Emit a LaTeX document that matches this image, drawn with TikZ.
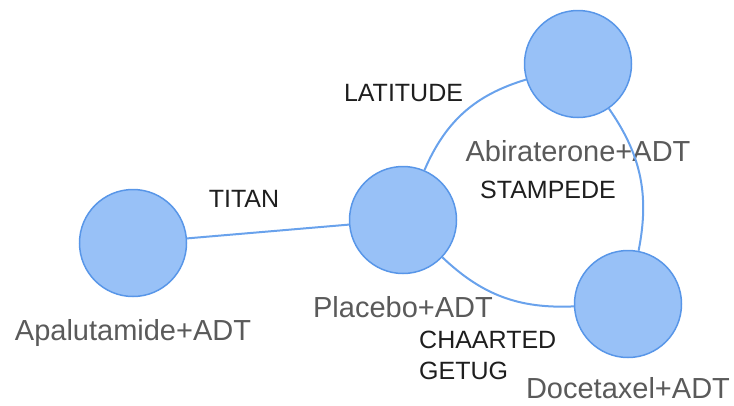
\documentclass[tikz,border=0pt]{standalone}
\usepackage{fontspec}
\setmainfont{Liberation Sans}
\usepackage{tikz}
\usetikzlibrary{shapes.geometric, arrows}
\definecolor{armfill}{RGB}{152,193,247}
\definecolor{armdraw}{RGB}{88,150,232}
\definecolor{linkcol}{RGB}{105,162,236}
\definecolor{armtext}{RGB}{90,90,90}
\definecolor{trialtext}{RGB}{30,30,30}
\tikzstyle{arm} = [circle, minimum size=107pt, inner sep=0pt, draw=armdraw, line width=1.5pt, fill=armfill]
\tikzstyle{armlabel} = [inner sep=0pt, text height=21pt, text depth=2pt, text=armtext, font=\fontsize{29}{34}\selectfont]
\tikzstyle{trial} = [inner sep=0pt, text height=18pt, text depth=5pt, text=trialtext, font=\fontsize{25}{30}\selectfont]
\tikzstyle{link} = [line width=2pt, draw=linkcol]
\begin{document}
\begin{tikzpicture}[x=1pt, y=-1pt, node distance=88pt]
        \useasboundingbox (0,0) rectangle (734,405);

        \node (apalutamide) [arm] at (133,243) {};
        \node (placebo) [arm] at (403,220) {};
        \node (abiraterone) [arm] at (578,64) {};
        \node (docetaxel) [arm] at (628,304) {};

        \node (apalutamidelbl) [armlabel, below of=apalutamide] {Apalutamide+ADT};
        \node (placebolbl) [armlabel, below of=placebo] {Placebo+ADT};
        \node (abirateronelbl) [armlabel, below of=abiraterone] {Abiraterone+ADT};
        \node (docetaxellbl) [armlabel, below of=docetaxel, yshift=3pt] {Docetaxel+ADT};

        \draw [link] (apalutamide) -- (placebo);
        \draw [link] (placebo) to[bend left=25] (abiraterone);
        \draw [link] (abiraterone) to[bend left=23] (docetaxel);
        \draw [link] (docetaxel) to[bend left=23] (placebo);

        \node (titan) [trial] at (244,200.5) {TITAN};
        \node (latitude) [trial] at (403.5,94.5) {LATITUDE};
        \node (stampede) [trial] at (548,191.5) {STAMPEDE};
        \node (chaarted) [trial, anchor=west] at (419,341.5) {CHAARTED};
        \node (getug) [trial, anchor=west] at (419,372.5) {GETUG};

      \end{tikzpicture}
\end{document}
